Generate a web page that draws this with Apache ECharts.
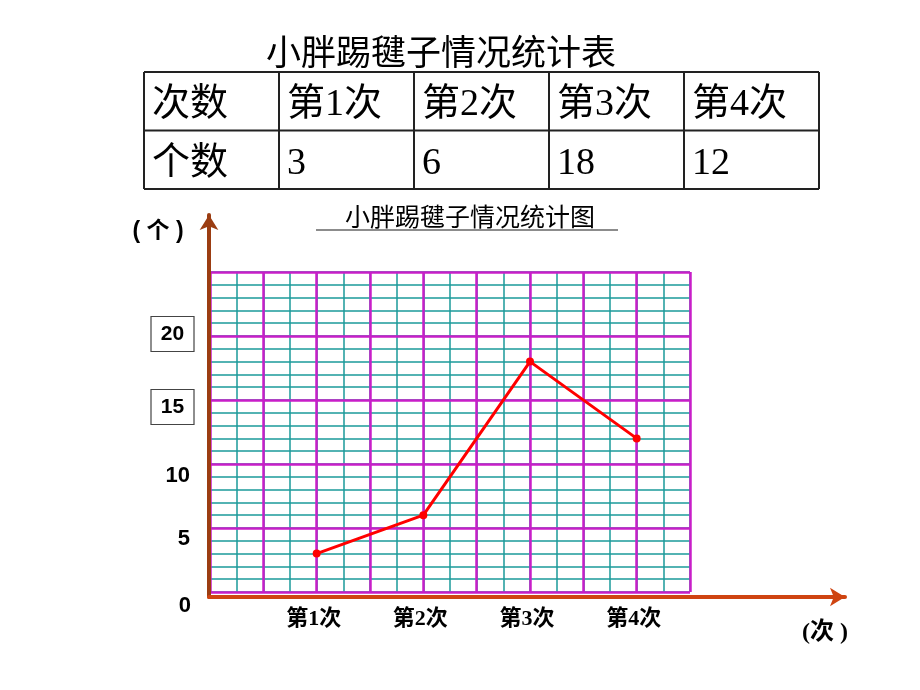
<!DOCTYPE html>
<html><head><meta charset="utf-8">
<script src="https://cdn.jsdelivr.net/npm/echarts@6/dist/echarts.min.js"></script>
<style>html,body{margin:0;padding:0;background:#fff}#c{width:920px;height:690px}</style>
</head><body><div id="c"></div>
<script>
const tableTitle = '小胖踢毽子情况统计表';
const chartTitle = '小胖踢毽子情况统计图';
const headLabel = '次数';
const rowLabel = '个数';
const categories = ['第1次', '第2次', '第3次', '第4次'];
const counts = [3, 6, 18, 12];
const yTickLabels = [0, 5, 10, 15, 20];
const boxedTicks = [15, 20];
const yUnit = '( 个 )';
const xUnit = '(次 )';

const MAGENTA = '#c81ec8', CYAN = '#1a9a9a';
const SERIF = "'Liberation Serif','Noto Sans CJK SC',serif";
const SANS = "'Liberation Sans','Noto Sans CJK SC',sans-serif";

// 10 slots on the horizontal axis: categories sit on every second grid line
const slotLabels = Array(10).fill('');
const slotValues = Array(10).fill(null);
categories.forEach((c, i) => { slotLabels[2 * i + 2] = c; slotValues[2 * i + 2] = counts[i]; });

// table built from arrays
const tbl = { x: 144, y: 72, colW: 135, rowH: 58.5 };
const rows = [[headLabel].concat(categories), [rowLabel].concat(counts.map(String))];
const graphics = [];
const nCols = rows[0].length;
for (let r = 0; r <= rows.length; r++) {
  graphics.push({ type: 'line', shape: { x1: tbl.x, y1: tbl.y + r * tbl.rowH, x2: tbl.x + nCols * tbl.colW, y2: tbl.y + r * tbl.rowH }, style: { stroke: '#222', lineWidth: 2 } });
}
for (let c = 0; c <= nCols; c++) {
  graphics.push({ type: 'line', shape: { x1: tbl.x + c * tbl.colW, y1: tbl.y, x2: tbl.x + c * tbl.colW, y2: tbl.y + rows.length * tbl.rowH }, style: { stroke: '#222', lineWidth: 2 } });
}
rows.forEach((row, r) => row.forEach((t, c) => {
  graphics.push({ type: 'text', x: tbl.x + c * tbl.colW + 8, y: tbl.y + r * tbl.rowH + tbl.rowH / 2 + 4,
    style: { text: t, font: '38px ' + SERIF, fill: '#000', textVerticalAlign: 'middle', textAlign: 'left' } });
}));
graphics.push({ type: 'line', shape: { x1: 316, y1: 230, x2: 618, y2: 230 }, style: { stroke: '#666', lineWidth: 1.5 } });
graphics.push({ type: 'text', x: 158, y: 232, style: { text: yUnit, font: 'bold 23px ' + SANS, fill: '#000', textAlign: 'center', textVerticalAlign: 'middle' } });
graphics.push({ type: 'text', x: 825, y: 633, style: { text: xUnit, font: 'bold 24px ' + SERIF, fill: '#000', textAlign: 'center', textVerticalAlign: 'middle' } });

const chart = echarts.init(document.getElementById('c'));
chart.setOption({
  animation: false,
  backgroundColor: '#fff',
  title: [
    { text: tableTitle, left: 436, top: 33, textAlign: 'center',
      textStyle: { fontFamily: SERIF, fontSize: 35, fontWeight: 'normal', color: '#000' } },
    { text: chartTitle, left: 465, top: 202, textAlign: 'center',
      textStyle: { fontFamily: SANS, fontSize: 25, fontWeight: 'normal', color: '#000' } }
  ],
  graphic: graphics,
  grid: [
    { left: 210, top: 272, width: 480, height: 320 },
    { left: 209, top: 215, width: 636, height: 382 }
  ],
  xAxis: [
    { gridIndex: 0, type: 'value', min: 0, max: 9, interval: 0.5, position: 'top', z: 0,
      axisLine: { show: false }, axisTick: { show: false }, axisLabel: { show: false },
      splitLine: { show: true, lineStyle: { color: CYAN, width: 1.5 } } },
    { gridIndex: 0, type: 'category', data: slotLabels, boundaryGap: false, position: 'bottom', z: 1,
      axisLine: { show: false }, axisTick: { show: false },
      axisLabel: { interval: 0, margin: 16, color: '#000', fontFamily: SERIF, fontWeight: 'bold', fontSize: 22, padding: [0, 6, 0, 0] },
      splitLine: { show: true, interval: 0, lineStyle: { color: MAGENTA, width: 2.5 } } },
    { gridIndex: 1, type: 'value', min: 0, max: 1, show: true, z: 3,
      axisLine: { show: true, onZero: false, symbol: ['none', 'arrow'], symbolSize: [14, 15], lineStyle: { color: '#cf4411', width: 4 } },
      axisTick: { show: false }, axisLabel: { show: false }, splitLine: { show: false } }
  ],
  yAxis: [
    { gridIndex: 0, type: 'value', min: 0, max: 25, interval: 1, position: 'right', z: 0,
      axisLine: { show: false }, axisTick: { show: false }, axisLabel: { show: false },
      splitLine: { show: true, lineStyle: { color: CYAN, width: 1.5 } } },
    { gridIndex: 0, type: 'value', min: 0, max: 25, interval: 5, position: 'left', z: 1,
      axisLine: { show: false }, axisTick: { show: false },
      splitLine: { show: true, lineStyle: { color: MAGENTA, width: 2.5 } },
      axisLabel: {
        margin: 16, color: '#000', fontFamily: SANS, fontWeight: 'bold', fontSize: 21, padding: [5, 0, 0, 0],
        formatter: v => {
          if (yTickLabels.indexOf(v) < 0) return '';
          if (boxedTicks.indexOf(v) >= 0) return v === 20 ? '{sp|}{boxT|' + v + '}' : '{sp|}{boxB|' + v + '}';
          return '{n' + v + '|' + v + '}';
        },
        rich: {
          sp: { height: 44, width: 0 },
          boxT: { verticalAlign: 'top', borderColor: '#444', borderWidth: 1.2, padding: [7, 9, 7, 9], width: 25, align: 'center', fontFamily: SANS, fontWeight: 'bold', fontSize: 21, lineHeight: 22, color: '#000' },
          boxB: { verticalAlign: 'bottom', borderColor: '#444', borderWidth: 1.2, padding: [7, 9, 7, 9], width: 25, align: 'center', fontFamily: SANS, fontWeight: 'bold', fontSize: 21, lineHeight: 22, color: '#000' },
          n0: { padding: [22, 3, 0, 0], fontFamily: SANS, fontWeight: 'bold', fontSize: 22, lineHeight: 22, color: '#000' },
          n5: { padding: [16, 4, 0, 0], fontFamily: SANS, fontWeight: 'bold', fontSize: 22, lineHeight: 22, color: '#000' },
          n10: { padding: [18, 4, 0, 0], fontFamily: SANS, fontWeight: 'bold', fontSize: 22, lineHeight: 22, color: '#000' }
        }
      } },
    { gridIndex: 1, type: 'value', min: 0, max: 1, show: true, z: 3,
      axisLine: { show: true, onZero: false, symbol: ['none', 'arrow'], symbolSize: [14, 15], lineStyle: { color: '#9b3d12', width: 4 } },
      axisTick: { show: false }, axisLabel: { show: false }, splitLine: { show: false } }
  ],
  series: [{
    type: 'line', xAxisIndex: 1, yAxisIndex: 1, data: slotValues, connectNulls: true,
    symbol: 'circle', symbolSize: 8, z: 5,
    lineStyle: { color: '#ff0000', width: 3 }, itemStyle: { color: '#ff0000' }
  }]
});
</script></body></html>
